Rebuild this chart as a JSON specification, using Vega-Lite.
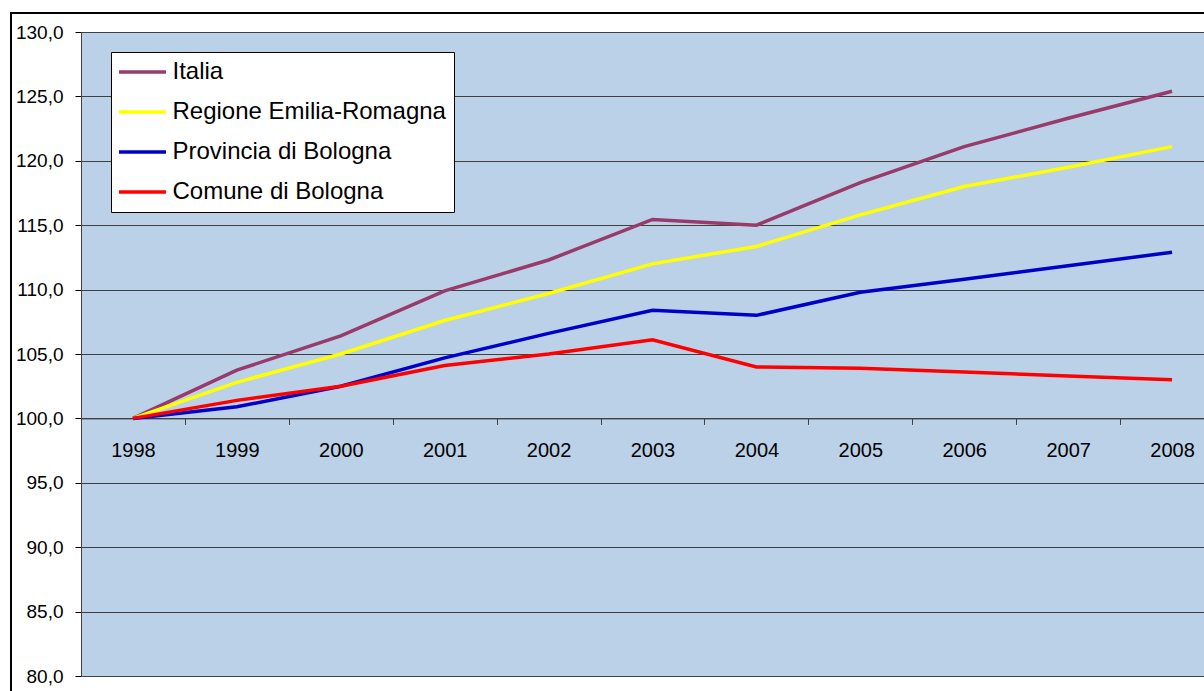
{
  "$schema": "https://vega.github.io/schema/vega-lite/v6.json",
  "width": 1143,
  "height": 644,
  "autosize": {"type": "none"},
  "padding": {"left": 81, "top": 32, "right": 0, "bottom": 15},
  "background": "white",
  "config": {
    "font": "Liberation Sans",
    "view": {"fill": "#BBD1E8", "stroke": "#808080", "strokeWidth": 1}
  },
  "data": {
    "values": [
      {"anno": "1998", "serie": "Italia", "valore": 100.0},
      {"anno": "1999", "serie": "Italia", "valore": 103.75},
      {"anno": "2000", "serie": "Italia", "valore": 106.4},
      {"anno": "2001", "serie": "Italia", "valore": 109.9},
      {"anno": "2002", "serie": "Italia", "valore": 112.3},
      {"anno": "2003", "serie": "Italia", "valore": 115.45},
      {"anno": "2004", "serie": "Italia", "valore": 115.0},
      {"anno": "2005", "serie": "Italia", "valore": 118.3},
      {"anno": "2006", "serie": "Italia", "valore": 121.1},
      {"anno": "2007", "serie": "Italia", "valore": 123.3},
      {"anno": "2008", "serie": "Italia", "valore": 125.4},
      {"anno": "1998", "serie": "Regione Emilia-Romagna", "valore": 100.0},
      {"anno": "1999", "serie": "Regione Emilia-Romagna", "valore": 102.8},
      {"anno": "2000", "serie": "Regione Emilia-Romagna", "valore": 105.0},
      {"anno": "2001", "serie": "Regione Emilia-Romagna", "valore": 107.6},
      {"anno": "2002", "serie": "Regione Emilia-Romagna", "valore": 109.7},
      {"anno": "2003", "serie": "Regione Emilia-Romagna", "valore": 112.0},
      {"anno": "2004", "serie": "Regione Emilia-Romagna", "valore": 113.35},
      {"anno": "2005", "serie": "Regione Emilia-Romagna", "valore": 115.8},
      {"anno": "2006", "serie": "Regione Emilia-Romagna", "valore": 118.0},
      {"anno": "2007", "serie": "Regione Emilia-Romagna", "valore": 119.5},
      {"anno": "2008", "serie": "Regione Emilia-Romagna", "valore": 121.1},
      {"anno": "1998", "serie": "Provincia di Bologna", "valore": 100.0},
      {"anno": "1999", "serie": "Provincia di Bologna", "valore": 100.9},
      {"anno": "2000", "serie": "Provincia di Bologna", "valore": 102.5},
      {"anno": "2001", "serie": "Provincia di Bologna", "valore": 104.7},
      {"anno": "2002", "serie": "Provincia di Bologna", "valore": 106.6},
      {"anno": "2003", "serie": "Provincia di Bologna", "valore": 108.4},
      {"anno": "2004", "serie": "Provincia di Bologna", "valore": 108.0},
      {"anno": "2005", "serie": "Provincia di Bologna", "valore": 109.8},
      {"anno": "2006", "serie": "Provincia di Bologna", "valore": 110.8},
      {"anno": "2007", "serie": "Provincia di Bologna", "valore": 111.85},
      {"anno": "2008", "serie": "Provincia di Bologna", "valore": 112.9},
      {"anno": "1998", "serie": "Comune di Bologna", "valore": 100.0},
      {"anno": "1999", "serie": "Comune di Bologna", "valore": 101.4},
      {"anno": "2000", "serie": "Comune di Bologna", "valore": 102.5},
      {"anno": "2001", "serie": "Comune di Bologna", "valore": 104.1},
      {"anno": "2002", "serie": "Comune di Bologna", "valore": 105.0},
      {"anno": "2003", "serie": "Comune di Bologna", "valore": 106.1},
      {"anno": "2004", "serie": "Comune di Bologna", "valore": 104.0},
      {"anno": "2005", "serie": "Comune di Bologna", "valore": 103.9},
      {"anno": "2006", "serie": "Comune di Bologna", "valore": 103.6},
      {"anno": "2007", "serie": "Comune di Bologna", "valore": 103.3},
      {"anno": "2008", "serie": "Comune di Bologna", "valore": 103.0}
    ]
  },
  "resolve": {"scale": {"x": "independent"}, "axis": {"x": "independent"}},
  "layer": [
    {
      "mark": {"type": "rect", "fill": null, "filled": false, "stroke": "black", "strokeWidth": 1.5, "clip": false},
      "encoding": {
        "x": {"datum": -0.0612, "type": "quantitative", "scale": {"domain": [0, 1]}, "axis": null},
        "x2": {"datum": 1.1},
        "y": {"datum": 131.47, "type": "quantitative", "scale": {"domain": [80, 130], "nice": false, "zero": false}},
        "y2": {"datum": 78.4}
      }
    },
    {
      "mark": {"type": "line", "strokeWidth": 3.5},
      "encoding": {
        "x": {
          "field": "anno",
          "type": "ordinal",
          "bandPosition": 0.5,
          "scale": {"type": "band", "paddingInner": 0, "paddingOuter": 0},
          "axis": {
            "title": null,
            "labelAngle": 0,
            "offset": -257.6,
            "tickBand": "extent",
            "tickSize": 6,
            "labelPadding": 16,
            "labelFontSize": 20,
            "labelColor": "black",
            "domainColor": "#404040",
            "tickColor": "#404040",
            "grid": false
          }
        },
        "y": {
          "field": "valore",
          "type": "quantitative",
          "scale": {"domain": [80, 130], "nice": false, "zero": false},
          "axis": {
            "title": null,
            "values": [80, 85, 90, 95, 100, 105, 110, 115, 120, 125, 130],
            "labelExpr": "replace(format(datum.value, '.1f'), '.', ',')",
            "labelFontSize": 19,
            "labelPadding": 12,
            "labelColor": "black",
            "tickSize": 6,
            "tickColor": "black",
            "domainColor": "#404040",
            "grid": true,
            "gridColor": "#404040",
            "gridOpacity": 1
          }
        },
        "color": {
          "field": "serie",
          "type": "nominal",
          "sort": null,
          "scale": {
            "domain": ["Italia", "Regione Emilia-Romagna", "Provincia di Bologna", "Comune di Bologna"],
            "range": ["#983A6A", "#FFFF00", "#0000C8", "#FF0000"]
          },
          "legend": {
            "title": null,
            "orient": "none",
            "legendX": 30,
            "legendY": 20,
            "symbolType": "M-4.7,0H4.7",
            "symbolSize": 100,
            "symbolOffset": 11.5,
            "symbolStrokeWidth": 3.5,
            "labelFontSize": 24,
            "labelColor": "black",
            "labelOffset": 18,
            "labelLimit": 600,
            "rowPadding": 16,
            "padding": 8,
            "strokeColor": "black",
            "fillColor": "white"
          }
        }
      }
    }
  ]
}
